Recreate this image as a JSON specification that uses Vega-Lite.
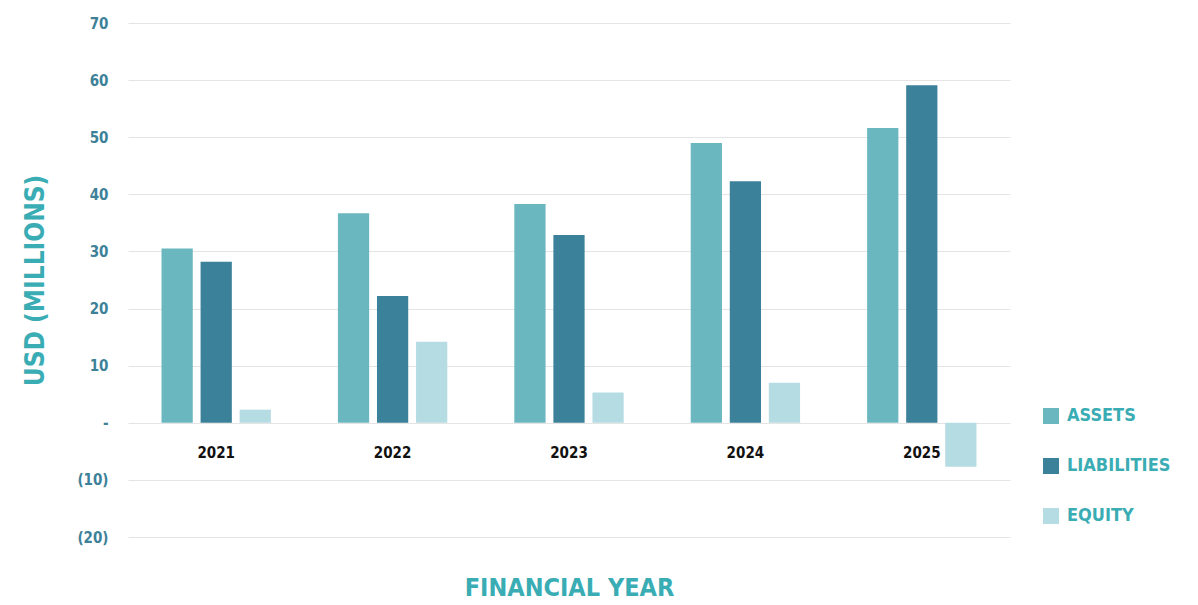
{
  "$schema": "https://vega.github.io/schema/vega-lite/v6.json",
  "width": 882,
  "height": 514,
  "autosize": {"type": "none"},
  "padding": {"left": 128, "top": 23, "right": 188, "bottom": 68},
  "background": "white",
  "config": {
    "view": {"stroke": null},
    "font": "DejaVu Sans Condensed, DejaVu Sans, sans-serif"
  },
  "data": {
    "values": [
      {"year": "2021", "type": "ASSETS", "value": 30.5},
      {"year": "2021", "type": "LIABILITIES", "value": 28.2},
      {"year": "2021", "type": "EQUITY", "value": 2.3},
      {"year": "2022", "type": "ASSETS", "value": 36.7},
      {"year": "2022", "type": "LIABILITIES", "value": 22.2},
      {"year": "2022", "type": "EQUITY", "value": 14.2},
      {"year": "2023", "type": "ASSETS", "value": 38.3},
      {"year": "2023", "type": "LIABILITIES", "value": 32.9},
      {"year": "2023", "type": "EQUITY", "value": 5.3},
      {"year": "2024", "type": "ASSETS", "value": 49.0},
      {"year": "2024", "type": "LIABILITIES", "value": 42.3},
      {"year": "2024", "type": "EQUITY", "value": 7.0},
      {"year": "2025", "type": "ASSETS", "value": 51.6},
      {"year": "2025", "type": "LIABILITIES", "value": 59.1},
      {"year": "2025", "type": "EQUITY", "value": -7.7}
    ]
  },
  "mark": {"type": "bar"},
  "encoding": {
    "x": {
      "field": "year",
      "type": "nominal",
      "scale": {"paddingInner": 0.38, "paddingOuter": 0.19},
      "axis": {
        "orient": "bottom",
        "offset": -114,
        "domain": false,
        "ticks": false,
        "labelAngle": 0,
        "labelPadding": 22,
        "labelFontSize": 15,
        "labelFontWeight": "bold",
        "labelColor": "#111111",
        "title": "FINANCIAL YEAR",
        "titleFontSize": 25,
        "titleFontWeight": "bold",
        "titleColor": "#3aacb4",
        "titlePadding": 115
      }
    },
    "xOffset": {
      "field": "type",
      "type": "nominal",
      "sort": ["ASSETS", "LIABILITIES", "EQUITY"],
      "scale": {"paddingInner": 0.2, "paddingOuter": 0}
    },
    "y": {
      "field": "value",
      "type": "quantitative",
      "scale": {"domain": [-20, 70], "nice": false, "zero": false},
      "axis": {
        "values": [-20, -10, 0, 10, 20, 30, 40, 50, 60, 70],
        "labelExpr": "datum.value == 0 ? '-' : (datum.value < 0 ? '(' + abs(datum.value) + ')' : datum.value)",
        "domain": false,
        "ticks": false,
        "grid": true,
        "gridColor": "#e4e4e4",
        "gridWidth": 1,
        "labelPadding": 20,
        "labelFontSize": 15,
        "labelFontWeight": "bold",
        "labelColor": "#3d8199",
        "title": "USD (MILLIONS)",
        "titleFontSize": 26,
        "titleFontWeight": "bold",
        "titleColor": "#3aacb4",
        "titlePadding": 28
      }
    },
    "color": {
      "field": "type",
      "type": "nominal",
      "sort": ["ASSETS", "LIABILITIES", "EQUITY"],
      "scale": {
        "domain": ["ASSETS", "LIABILITIES", "EQUITY"],
        "range": ["#6bb7bf", "#3b8199", "#b6dce3"]
      },
      "legend": {
        "orient": "none",
        "legendX": 914,
        "legendY": 384,
        "title": null,
        "symbolType": "square",
        "symbolSize": 256,
        "symbolStrokeWidth": 0,
        "labelFontSize": 18,
        "labelFontWeight": "bold",
        "labelColor": "#3aacb4",
        "labelOffset": 7,
        "rowPadding": 32
      }
    }
  }
}
